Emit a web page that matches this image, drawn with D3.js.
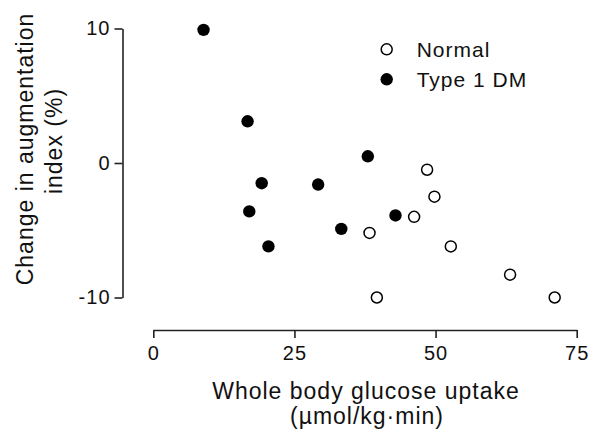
<!DOCTYPE html>
<html>
<head>
<meta charset="utf-8">
<script src="https://cdn.jsdelivr.net/npm/d3@7"></script>
<style>
  body { margin: 0; background: #fff; }
  svg text { font-family: "Liberation Sans", Arial, sans-serif; fill: #111; letter-spacing: 1px; }
  .axis path, .axis line { stroke: #222; stroke-width: 1.6px; }
  .axis text { font-size: 20px; }
</style>
</head>
<body>
<svg id="chart" width="589" height="436"></svg>
<script>
"use strict";

// Data
const NORMAL_X = [48.5, 49.8, 46.2, 38.3, 52.7, 63.2, 71.1, 39.6];
const NORMAL_Y = [-0.5, -2.5, -4.0, -5.2, -6.2, -8.3, -10.0, -10.0];
const DM_X = [8.9, 16.7, 19.2, 17.0, 20.4, 29.2, 33.3, 38.0, 42.9];
const DM_Y = [9.9, 3.1, -1.5, -3.6, -6.2, -1.6, -4.9, 0.5, -3.9];
const X_TICKS = [0, 25, 50, 75];
const Y_TICKS = [-10, 0, 10];
const LEGEND = ["Normal", "Type 1 DM"];

// Dimensions
const LEFT = 122.5;
const RIGHT = 576.7;
const TOP = 28.5;
const BOTTOM = 297.5;
const X_AXIS_Y = 330;
const Y_AXIS_X = 153.3;
const R = 6.2;

const SVG = d3.select("#chart");

// Scales
const X_SCALE = d3.scaleLinear().domain([0, 75]).range([Y_AXIS_X, RIGHT]);
const Y_SCALE = d3.scaleLinear().domain([-10, 10]).range([BOTTOM, TOP]);

// X axis
SVG.append("g")
  .attr("class", "axis")
  .attr("transform", "translate(0," + X_AXIS_Y + ")")
  .call(d3.axisBottom(X_SCALE).tickValues(X_TICKS).tickSize(8).tickSizeOuter(0).tickPadding(8).tickFormat(d => String(d)))
  .call(g => g.selectAll("text").attr("fill", "#111"));

// Y axis
SVG.append("g")
  .attr("class", "axis")
  .attr("transform", "translate(" + LEFT + ",0)")
  .call(d3.axisLeft(Y_SCALE).tickValues(Y_TICKS).tickSize(8).tickSizeOuter(0).tickPadding(4).tickFormat(d => String(d)))
  .call(g => g.selectAll("text").attr("fill", "#111"));

// Points
const normal = NORMAL_X.map((x, i) => ({ x: x, y: NORMAL_Y[i] }));
const dm = DM_X.map((x, i) => ({ x: x, y: DM_Y[i] }));

SVG.append("g").selectAll("circle")
  .data(dm)
  .join("circle")
  .attr("cx", d => X_SCALE(d.x))
  .attr("cy", d => Y_SCALE(d.y))
  .attr("r", R)
  .attr("fill", "#000");

SVG.append("g").selectAll("circle")
  .data(normal)
  .join("circle")
  .attr("cx", d => X_SCALE(d.x))
  .attr("cy", d => Y_SCALE(d.y))
  .attr("r", R - 0.7)
  .attr("fill", "#fff")
  .attr("stroke", "#000")
  .attr("stroke-width", 1.5);

// Legend
const legend = SVG.append("g").attr("transform", "translate(386.7,49.3)");
LEGEND.forEach(function(name, i) {
  const row = legend.append("g").attr("transform", "translate(0," + i * 30 + ")");
  row.append("circle")
    .attr("r", i === 0 ? R - 0.7 : R)
    .attr("fill", i === 0 ? "#fff" : "#000")
    .attr("stroke", "#000")
    .attr("stroke-width", i === 0 ? 1.5 : 0);
  row.append("text")
    .attr("x", 30)
    .attr("y", 7.6)
    .style("font-size", "21px")
    .text(name);
});

// Axis titles
SVG.append("text")
  .attr("x", 366)
  .attr("y", 399)
  .attr("text-anchor", "middle")
  .style("font-size", "23px")
  .text("Whole body glucose uptake");

SVG.append("text")
  .attr("x", 367)
  .attr("y", 424)
  .attr("text-anchor", "middle")
  .style("font-size", "23px")
  .text("(\u00b5mol/kg\u00b7min)");

SVG.append("text")
  .attr("transform", "translate(33,149) rotate(-90)")
  .attr("text-anchor", "middle")
  .style("font-size", "23px")
  .text("Change in augmentation");

SVG.append("text")
  .attr("transform", "translate(62,141) rotate(-90)")
  .attr("text-anchor", "middle")
  .style("font-size", "23px")
  .text("index (%)");
</script>
</body>
</html>
